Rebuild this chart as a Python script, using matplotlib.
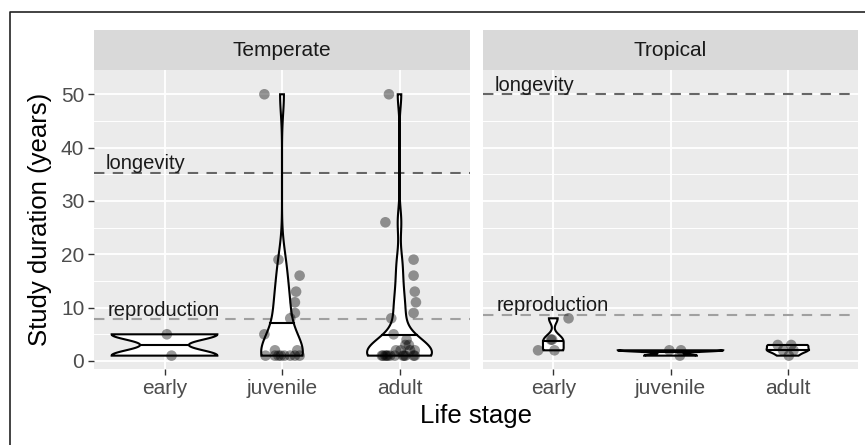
import numpy as np
import matplotlib
matplotlib.use("Agg")
import matplotlib.pyplot as plt
from matplotlib.lines import Line2D

plt.rcParams['font.family'] = ['Liberation Sans', 'DejaVu Sans']

# ---------------- data ----------------
stages = ["early", "juvenile", "adult"]
regions = ["Temperate", "Tropical"]

temperate_early = [5, 1]
temperate_juvenile = [50, 19, 16, 13, 11, 9, 8, 5, 2, 2, 1, 1, 1, 1, 1, 1, 1, 1]
temperate_adult = [50, 26, 19, 16, 13, 11, 9, 8, 5, 4, 3, 3, 2, 2, 2, 2,
                   1, 1, 1, 1, 1, 1, 1, 1, 1, 1, 1, 1]
tropical_early = [8, 4, 4, 2, 2]
tropical_juvenile = [2, 2, 1]
tropical_adult = [3, 3, 2, 2, 1]

# horizontal jitter (category units)
temperate_early_jit = [0.02, 0.06]
temperate_juvenile_jit = [-0.15, -0.03, 0.15, 0.12, 0.11, 0.11, 0.07, -0.15, -0.06, 0.13,
                          -0.14, -0.06, -0.03, -0.01, 0.02, 0.07, 0.11, 0.15]
temperate_adult_jit = [-0.09, -0.12, 0.12, 0.12, 0.13, 0.14, 0.12, -0.07, -0.05, 0.06, 0.05, 0.08,
                       -0.03, 0.13, 0.01, 0.09,
                       -0.15, -0.14, -0.12, -0.11, -0.10, -0.08, -0.04, 0.03, 0.04, 0.05, 0.12, 0.13]
tropical_early_jit = [0.13, -0.02, -0.01, -0.13, 0.01]
tropical_juvenile_jit = [-0.01, 0.09, 0.08]
tropical_adult_jit = [-0.085, 0.03, -0.04, 0.05, 0.01]

longevity = [35.2, 50.0]       # Temperate, Tropical
reproduction = [7.8, 8.6]

panel_values = {
    "Temperate": [temperate_early, temperate_juvenile, temperate_adult],
    "Tropical": [tropical_early, tropical_juvenile, tropical_adult],
}
panel_jitter = {
    "Temperate": [temperate_early_jit, temperate_juvenile_jit, temperate_adult_jit],
    "Tropical": [tropical_early_jit, tropical_juvenile_jit, tropical_adult_jit],
}


# ---------------- helpers (ggplot-like violin) ----------------
def bw_nrd0(x):
    x = np.asarray(x, float)
    hi = np.std(x, ddof=1)
    q75, q25 = np.percentile(x, [75, 25])
    lo = min(hi, (q75 - q25) / 1.34)
    if lo == 0:
        lo = hi if hi else (abs(x[0]) if x[0] else 1.0)
    return 0.9 * lo * len(x) ** -0.2


def violin_density(x):
    x = np.asarray(x, float)
    bw = bw_nrd0(x)
    y = np.linspace(x.min(), x.max(), 512)
    d = np.exp(-0.5 * ((y[:, None] - x[None, :]) / bw) ** 2).sum(1) / (len(x) * bw * np.sqrt(2 * np.pi))
    return y, d


# ---------------- figure ----------------
W, H = 865, 445
fig = plt.figure(figsize=(W / 100, H / 100), dpi=100)

panel_px = [(94, 470), (483, 858)]
top_px, bot_px = 70, 369.3
strip_top = 30

tick_col = '#4D4D4D'

for pi, region in enumerate(regions):
    x0, x1 = panel_px[pi]
    ax = fig.add_axes([x0 / W, (H - bot_px) / H, (x1 - x0) / W, (bot_px - top_px) / H])
    ax.set_facecolor('#EBEBEB')
    for s in ax.spines.values():
        s.set_visible(False)
    ax.set_xlim(0.4, 3.6)
    ax.set_ylim(-1.56, 54.55)
    ax.set_xticks([1, 2, 3])
    ax.set_xticklabels(stages)
    ax.set_yticks([0, 10, 20, 30, 40, 50])
    ax.set_yticks([5, 15, 25, 35, 45], minor=True)
    ax.grid(True, which='major', color='white', lw=1.3, zorder=0)
    ax.grid(True, which='minor', axis='y', color='white', lw=0.7, zorder=0)
    ax.set_axisbelow(True)
    ax.tick_params(axis='both', which='major', length=4.5, width=1.0, color='#333333',
                   labelsize=15, labelcolor=tick_col, pad=2.5)
    ax.tick_params(axis='y', which='minor', length=0)
    if pi == 1:
        ax.tick_params(axis='y', which='both', left=False, labelleft=False)

    # reference lines
    ax.axhline(longevity[pi], color='#666666', lw=1.5, ls=(0, (5, 4)), zorder=1)
    ax.axhline(reproduction[pi], color='#A0A0A0', lw=1.5, ls=(0, (5, 4)), zorder=1)

    # violins
    dens = [violin_density(v) for v in panel_values[region]]
    dmax = max(d.max() for _, d in dens)
    for k, (yy, dd) in enumerate(dens):
        pos = k + 1
        hw = dd / dmax * 0.45
        xs = np.concatenate([pos - hw, (pos + hw)[::-1]])
        ys = np.concatenate([yy, yy[::-1]])
        ax.fill(xs, ys, facecolor='white', edgecolor='black', lw=1.5, zorder=3)
        cdf = np.cumsum(dd) / dd.sum()
        ymed = np.interp(0.5, cdf, yy)
        hwm = np.interp(ymed, yy, hw)
        ax.plot([pos - hwm, pos + hwm], [ymed, ymed], color='black', lw=1.5, zorder=3.5)

    # jittered points
    for k, (vals, jit) in enumerate(zip(panel_values[region], panel_jitter[region])):
        ax.scatter(np.array(jit) + k + 1, vals, s=58, color='black', alpha=0.4,
                   edgecolors='none', zorder=4)

    # labels
    ax.text(0.495, longevity[pi] + 0.7, "longevity", fontsize=14.5, color='#1A1A1A',
            ha='left', va='baseline', zorder=5)
    ax.text(0.52, reproduction[pi] + 0.7, "reproduction", fontsize=14.5, color='#1A1A1A',
            ha='left', va='baseline', zorder=5)

    # strip
    sax = fig.add_axes([x0 / W, (H - top_px) / H, (x1 - x0) / W, (top_px - strip_top) / H])
    sax.set_facecolor('#D9D9D9')
    for s in sax.spines.values():
        s.set_visible(False)
    sax.set_xticks([])
    sax.set_yticks([])
    sax.text(0.5, 0.5, region, transform=sax.transAxes, ha='center', va='center',
             fontsize=15, color='#1A1A1A')

# axis titles
fig.text(40 / W, 1 - 219.6 / H, "Study duration (years)", rotation=90, ha='center', va='center',
         fontsize=18.5, color='black')
fig.text(476 / W, 1 - 416 / H, "Life stage", ha='center', va='center', fontsize=18.5, color='black')

# outer border (top and left visible)
fig.add_artist(Line2D([10 / W, 10 / W, 1], [0, 1 - 12 / H, 1 - 12 / H], transform=fig.transFigure,
                      color='#222222', lw=1.2))

fig.savefig("out.png", dpi=100)
